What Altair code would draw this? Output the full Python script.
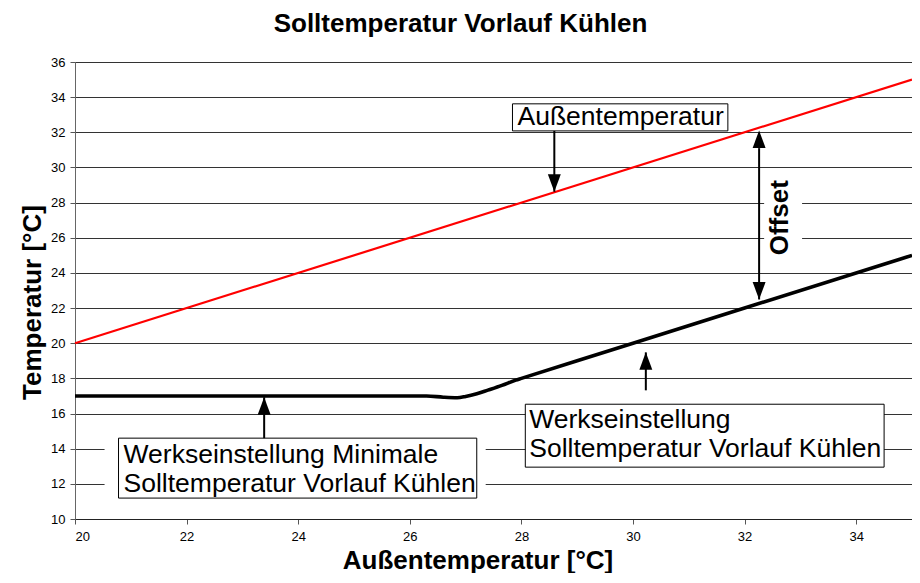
import altair as alt
import pandas as pd

# ---- data -------------------------------------------------------------
chart_title = ["Solltemperatur Vorlauf Kühlen"]
x_ticks = [20, 22, 24, 26, 28, 30, 32, 34]
y_ticks = [10, 12, 14, 16, 18, 20, 22, 24, 26, 28, 30, 32, 34, 36]

# Außentemperatur (red reference line)
out_x = [20, 35]
out_y = [20, 35]

# Solltemperatur Vorlauf Kühlen (black curve)
flow_x = [20, 22, 24, 26, 26.3, 26.6, 26.85, 27.0, 27.2, 27.4, 27.65, 27.9, 28, 30, 32, 35]
flow_y = [17, 17, 17, 17, 17.0, 16.93, 16.9, 16.97, 17.12, 17.33, 17.6, 17.9, 18, 20, 22, 25]

# annotation boxes (data units)
box_x1 = [27.84, 20.78, 28.07]
box_x2 = [31.70, 27.20, 34.50]
box_y1 = [33.62, 14.60, 16.53]
box_y2 = [32.08, 11.19, 12.95]

# white gaps behind annotations (gridline breaks)
gap_x1 = [20.53, 32.35]
gap_x2 = [27.36, 33.03]
gap_y1 = [14.60, 29.70]
gap_y2 = [11.19, 24.59]

label_text = ["Außentemperatur", "Werkseinstellung Minimale", "Solltemperatur Vorlauf Kühlen",
              "Werkseinstellung", "Solltemperatur Vorlauf Kühlen"]
label_x = [27.93, 20.87, 20.87, 28.14, 28.14]
label_y = [32.41, 13.18, 11.53, 15.17, 13.52]

# arrows: shaft from base to tip
arrow_x = [28.59, 23.39, 30.23, 32.26]
arrow_base = [32.08, 14.60, 17.32, 31.10]
arrow_tip = [28.62, 16.93, 19.48, 22.49]
head_x = [28.59, 23.39, 30.23, 32.26, 32.26]
head_y = [28.62, 16.93, 19.48, 32.10, 22.49]
head_dir = ["down", "up", "up", "up", "down"]

offset_text = ["Offset"]
offset_x = [32.63]
offset_y = [27.14]

# ---- frames -----------------------------------------------------------
df_title = pd.DataFrame({"t": chart_title})
df_out = pd.DataFrame({"x": out_x, "y": out_y})
df_flow = pd.DataFrame({"x": flow_x, "y": flow_y})
df_box = pd.DataFrame({"x": box_x1, "x2": box_x2, "y": box_y1, "y2": box_y2})
df_gap = pd.DataFrame({"x": gap_x1, "x2": gap_x2, "y": gap_y1, "y2": gap_y2})
df_lab = pd.DataFrame({"x": label_x, "y": label_y, "t": label_text})
df_arr = pd.DataFrame({"x": arrow_x, "y": arrow_base, "y2": arrow_tip})
df_head = pd.DataFrame({"x": head_x, "y": head_y, "d": head_dir})
df_off = pd.DataFrame({"x": offset_x, "y": offset_y, "t": offset_text})

FONT = "Liberation Sans"

xscale = alt.Scale(domain=[20, 35], nice=False, zero=False)
yscale = alt.Scale(domain=[10, 36], nice=False, zero=False)
xaxis = alt.Axis(values=x_ticks, title="Außentemperatur [°C]", grid=False,
                 labelPadding=6, titleX=402.5, titleY=49, titleBaseline="alphabetic",
                 titleAlign="center", domainColor="#222222")
yaxis = alt.Axis(values=y_ticks, title="Temperatur [°C]", grid=True,
                 labelPadding=5, titleX=-35, titleY=240, titleAngle=270,
                 titleAlign="center", titleBaseline="alphabetic", domainColor="#666666")


def X(f):
    return alt.X(f"{f}:Q", scale=xscale, axis=xaxis)


def Y(f):
    return alt.Y(f"{f}:Q", scale=yscale, axis=yaxis)


gaps = alt.Chart(df_gap).mark_rect(fill="white", strokeWidth=0).encode(
    x=X("x"), x2="x2", y=Y("y"), y2="y2")

boxes = alt.Chart(df_box).mark_rect(fill="white", stroke="black", strokeWidth=1).encode(
    x=X("x"), x2="x2", y=Y("y"), y2="y2")

red = alt.Chart(df_out).mark_line(color="#ff0000", strokeWidth=2.2).encode(x=X("x"), y=Y("y"))

black = alt.Chart(df_flow).mark_line(color="black", strokeWidth=3.6, interpolate="monotone").encode(
    x=X("x"), y=Y("y"))

labels = alt.Chart(df_lab).mark_text(align="left", baseline="alphabetic", fontSize=26.5,
                                     font=FONT, color="black").encode(
    x=X("x"), y=Y("y"), text="t:N")

shafts = alt.Chart(df_arr).mark_rule(color="black", strokeWidth=2).encode(
    x=X("x"), y=Y("y"), y2="y2")

up_path = "M0,0L0.37,1L-0.37,1Z"
down_path = "M0,0L0.37,-1L-0.37,-1Z"
heads = alt.Chart(df_head).mark_point(filled=True, size=1225, opacity=1, color="black",
                                      strokeWidth=0).encode(
    x=X("x"), y=Y("y"),
    shape=alt.Shape("d:N", scale=alt.Scale(domain=["up", "down"], range=[up_path, down_path]),
                    legend=None))

offset = alt.Chart(df_off).mark_text(angle=270, align="center", baseline="middle", fontSize=26,
                                     fontWeight="bold", font=FONT, color="black").encode(
    x=X("x"), y=Y("y"), text="t:N")

title = alt.Chart(df_title).mark_text(align="center", baseline="alphabetic", fontSize=26,
                                      fontWeight="bold", font=FONT, color="black").encode(
    x=alt.value(385.5), y=alt.value(-30), text="t:N")

chart = alt.layer(gaps, boxes, red, black, shafts, heads, labels, offset, title).properties(
    width=837, height=457,
    autosize=alt.AutoSizeParams(type="none"),
    padding={"left": 67, "top": 54, "right": 0, "bottom": 54},
).configure_view(stroke="#808080", strokeWidth=1).configure_axis(
    labelFont=FONT, labelFontSize=13, labelColor="black", tickColor="#555555", tickSize=5,
    gridColor="#333333", gridWidth=1, titleFont=FONT, titleFontSize=26,
    titleFontWeight="bold", titleColor="black"
)

chart.save("out.html", embed_options={"renderer": "svg", "actions": False})
